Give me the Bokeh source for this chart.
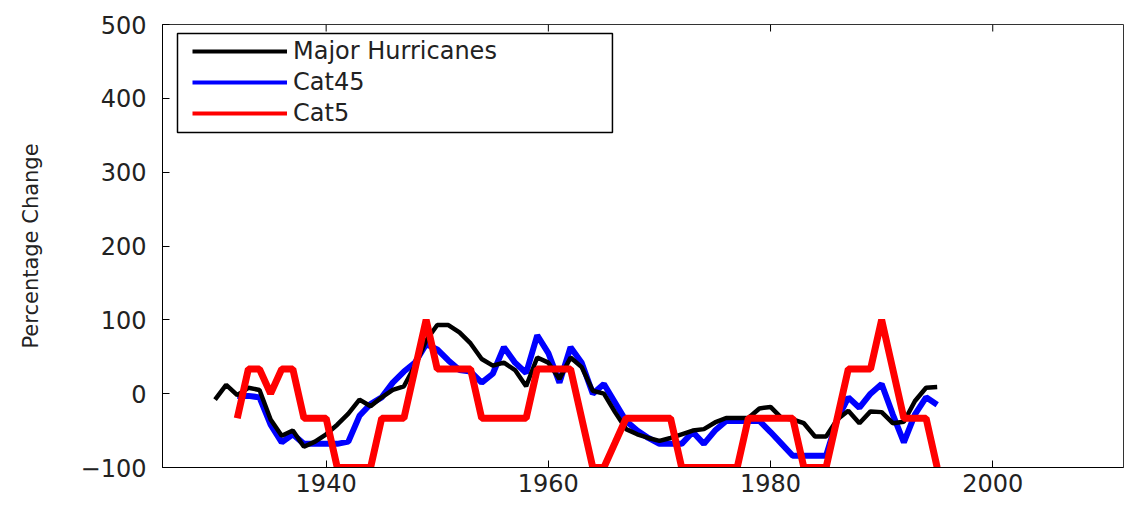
from bokeh.plotting import figure
from bokeh.models import (FixedTicker, Legend, LegendItem,
                          BoxAnnotation, Range1d, ColumnDataSource)
from bokeh.embed import file_html
from bokeh.resources import INLINE

# ---------------- data ----------------
major_years = list(range(1930, 1996))
major_vals = [-8, 12, -2, 8, 5, -35, -57, -50, -72, -65,
              -55, -42, -27, -8, -17, -5, 5, 10, 38, 72,
              93, 93, 83, 68, 47, 38, 42, 32, 10, 49,
              42, 20, 49, 36, 4, 0, -25, -48, -55, -60,
              -64, -60, -55, -50, -48, -39, -33, -33, -33, -20,
              -18, -33, -35, -40, -58, -58, -35, -23, -40, -24,
              -25, -40, -38, -10, 8, 9]

cat45_years = list(range(1932, 1996))
cat45_vals = [-3, -3, -5, -42, -66, -55, -68, -68,
              -68, -68, -65, -30, -14, -5, 15, 30, 42, 67,
              60, 45, 32, 30, 15, 27, 63, 42, 28, 79,
              55, 15, 63, 42, 0, 13, -12, -37, -50, -60,
              -68, -68, -68, -52, -68, -50, -37, -37, -37, -37,
              -52, -68, -84, -84, -84, -84, -35, -5, -19, 0,
              13, -28, -66, -28, -5, -15]

cat5_years = list(range(1932, 1996))
cat5_vals = [-33.3, 33.3, 33.3, 0, 33.3, 33.3, -33.3, -33.3,
             -33.3, -100, -100, -100, -100, -33.3, -33.3, -33.3, 33.3, 100,
             33.3, 33.3, 33.3, 33.3, -33.3, -33.3, -33.3, -33.3, -33.3, 33.3,
             33.3, 33.3, 33.3, -33.3, -100, -100, -66.7, -33.3, -33.3, -33.3,
             -33.3, -33.3, -100, -100, -100, -100, -100, -100, -33.3, -33.3,
             -33.3, -33.3, -33.3, -100, -100, -100, -33.3, 33.3, 33.3, 33.3,
             100, 33.3, -33.3, -33.3, -33.3, -100]

series_labels = ["Major Hurricanes", "Cat45", "Cat5"]
x_ticks = [1940, 1960, 1980, 2000]
y_ticks = [-100, 0, 100, 200, 300, 400, 500]

FONT = "DejaVu Sans"
X0, X1 = 1925.27, 2011.77
Y0, Y1 = -100, 500

p = figure(width=1124, height=505,
           x_range=Range1d(X0, X1), y_range=Range1d(Y0, Y1),
           output_backend="svg", toolbar_location=None,
           min_border_left=162, min_border_right=1,
           min_border_top=24, min_border_bottom=38)

p.xgrid.visible = False
p.ygrid.visible = False
p.outline_line_color = "#333333"
p.outline_line_width = 1
p.background_fill_color = "white"
p.border_fill_color = "white"

for ax in (p.xaxis[0], p.yaxis[0]):
    ax.axis_line_color = "black"
    ax.major_tick_line_color = "black"
    ax.major_tick_in = 7
    ax.major_tick_out = 0
    ax.minor_tick_line_color = None
    ax.major_label_text_font = FONT
    ax.major_label_text_font_size = "24px"
    ax.major_label_text_color = "#222222"

p.xaxis.ticker = FixedTicker(ticks=x_ticks)
p.yaxis.ticker = FixedTicker(ticks=y_ticks)
p.xaxis.major_label_standoff = 6
p.yaxis.major_label_standoff = 16
p.yaxis.axis_label = "Percentage Change"
p.yaxis.axis_label_text_font = FONT
p.yaxis.axis_label_text_font_size = "21px"
p.yaxis.axis_label_text_font_style = "normal"
p.yaxis.axis_label_text_color = "#222222"
p.yaxis.axis_label_standoff = 35

# inward ticks along the top edge of the box (MATLAB style)
tick_len = 7 * (Y1 - Y0) / 443.0
p.segment(x0=x_ticks, x1=x_ticks, y0=[Y1] * len(x_ticks),
          y1=[Y1 - tick_len] * len(x_ticks), line_color="black", line_width=1)

src_major = ColumnDataSource(dict(x=major_years, y=major_vals))
src_45 = ColumnDataSource(dict(x=cat45_years, y=cat45_vals))
src_5 = ColumnDataSource(dict(x=cat5_years, y=cat5_vals))

p.line("x", "y", source=src_45, color="#0000ff", line_width=6)
p.line("x", "y", source=src_major, color="black", line_width=4.5)
p.line("x", "y", source=src_5, color="#ff0000", line_width=7)

# legend (dummy renderers so legend lines have their own width)
nan = float("nan")
lb = p.line([nan], [nan], color="black", line_width=4)
l45 = p.line([nan], [nan], color="#0000ff", line_width=4)
l5 = p.line([nan], [nan], color="#ff0000", line_width=4)

box = BoxAnnotation(left=1926.62, right=1965.77, bottom=353.7, top=487.8,
                    fill_color="white", fill_alpha=1.0,
                    line_color="black", line_alpha=1.0, line_width=1.5)
p.add_layout(box)

legend = Legend(items=[LegendItem(label=series_labels[0], renderers=[lb]),
                       LegendItem(label=series_labels[1], renderers=[l45]),
                       LegendItem(label=series_labels[2], renderers=[l5])],
                location=(30, 443 - 12 - 92),
                glyph_width=95, glyph_height=30, label_height=30,
                spacing=1, padding=0, margin=0, label_standoff=6,
                border_line_alpha=0, background_fill_alpha=0,
                label_text_font=FONT, label_text_font_size="24px",
                label_text_color="#222222")
p.add_layout(legend)

open("out.html", "w").write(file_html(p, INLINE))
